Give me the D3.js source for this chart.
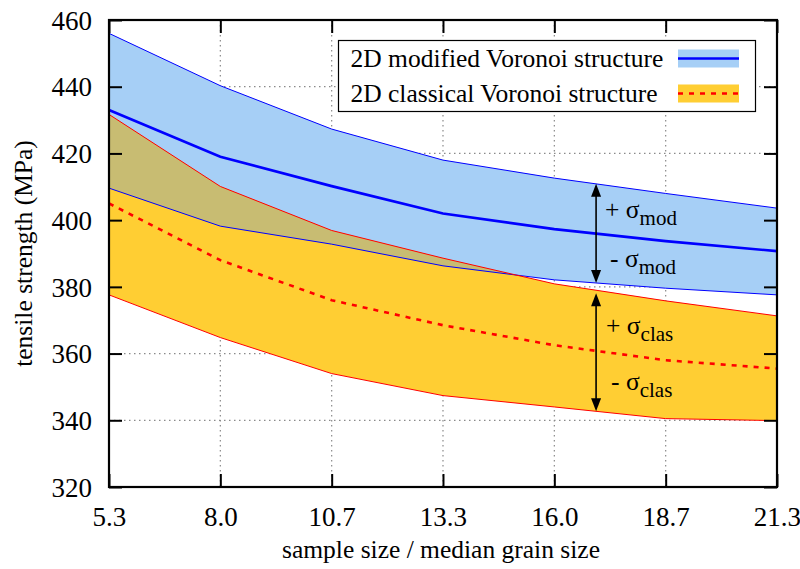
<!DOCTYPE html>
<html>
<head>
<meta charset="utf-8">
<script src="https://cdn.jsdelivr.net/npm/d3@7"></script>
<style>
  html, body { margin: 0; padding: 0; background: #fff; }
  svg { display: block; }
  text { font-family: "Liberation Serif", "DejaVu Serif", serif; fill: #000; }
</style>
</head>
<body>
<svg id="chart" width="800" height="569"></svg>
<script>
// sample size / median grain size (x positions of the simulations)
const sampleSize = [5.333, 8.0, 10.667, 13.333, 16.0, 18.667, 21.333];
const xTickValues = [5.333, 8.0, 10.667, 13.333, 16.0, 18.667, 21.333];
const yTickValues = [320, 340, 360, 380, 400, 420, 440, 460];

// 2D modified Voronoi structure: mean and mean ± sigma (MPa)
const modMean  = [433.0, 419.0, 410.2, 402.0, 397.3, 393.7, 390.7];
const modUpper = [456.0, 440.3, 427.3, 418.0, 412.6, 408.0, 403.6];
const modLower = [409.6, 398.2, 392.8, 386.3, 382.1, 379.6, 377.6];

// 2D classical Voronoi structure: mean and mean ± sigma (MPa)
const clasMean  = [405.0, 388.0, 376.0, 368.5, 362.5, 358.0, 355.5];
const clasUpper = [431.7, 410.1, 396.9, 388.6, 380.9, 375.8, 371.3];
const clasLower = [377.6, 364.8, 354.0, 347.4, 344.0, 340.5, 339.9];

// where the ± sigma arrows are drawn
const annotX = 17.0;

const legendLabels = ["2D modified Voronoi structure", "2D classical Voronoi structure"];
const xTitle = "sample size / median grain size";
const yTitle = "tensile strength (MPa)";

const colors = {
  modFill: "#a6cff6",
  clasFill: "#ffce33",
  overlap: "#c8bc72",
  modLine: "#0000ff",
  clasLine: "#ff0000",
  grid: "#8a8a8a"
};

const tickFont = 27;
const textFont = 25.5;

const svg = d3.select("#chart");
const plot = { left: 109, right: 777, top: 20, bottom: 487 };

const x = d3.scaleLinear().domain([16 / 3, 64 / 3]).range([plot.left, plot.right]);
const y = d3.scaleLinear().domain([320, 460]).range([plot.bottom, plot.top]);

const rows = sampleSize.map((s, i) => ({
  s,
  modMean: modMean[i], modUpper: modUpper[i], modLower: modLower[i],
  clasMean: clasMean[i], clasUpper: clasUpper[i], clasLower: clasLower[i]
}));

// grid
const grid = svg.append("g").attr("class", "grid")
  .attr("stroke", colors.grid).attr("stroke-width", 1.2)
  .attr("stroke-dasharray", "1.5,3.5");
grid.selectAll("line.gx").data(xTickValues.slice(1, -1)).join("line")
  .attr("x1", d => x(d)).attr("x2", d => x(d))
  .attr("y1", plot.top).attr("y2", plot.bottom);
grid.selectAll("line.gy").data(yTickValues.slice(1, -1)).join("line")
  .attr("x1", plot.left).attr("x2", plot.right)
  .attr("y1", d => y(d)).attr("y2", d => y(d));

// bands
const modArea = d3.area().x(d => x(d.s)).y0(d => y(d.modLower)).y1(d => y(d.modUpper));
const clasArea = d3.area().x(d => x(d.s)).y0(d => y(d.clasLower)).y1(d => y(d.clasUpper));

const defs = svg.append("defs");
defs.append("clipPath").attr("id", "modClip").append("path").attr("d", modArea(rows));

svg.append("path").attr("d", modArea(rows)).attr("fill", colors.modFill);
svg.append("path").attr("d", clasArea(rows)).attr("fill", colors.clasFill);
svg.append("path").attr("d", clasArea(rows)).attr("fill", colors.overlap)
  .attr("clip-path", "url(#modClip)");

// band edges and means
const lineOf = key => d3.line().x(d => x(d.s)).y(d => y(d[key]));
const lines = svg.append("g").attr("fill", "none");
lines.append("path").attr("d", lineOf("modUpper")(rows)).attr("stroke", colors.modLine).attr("stroke-width", 1);
lines.append("path").attr("d", lineOf("modLower")(rows)).attr("stroke", colors.modLine).attr("stroke-width", 1);
lines.append("path").attr("d", lineOf("clasUpper")(rows)).attr("stroke", colors.clasLine).attr("stroke-width", 1);
lines.append("path").attr("d", lineOf("clasLower")(rows)).attr("stroke", colors.clasLine).attr("stroke-width", 1);
lines.append("path").attr("d", lineOf("modMean")(rows)).attr("stroke", colors.modLine).attr("stroke-width", 2.6);
lines.append("path").attr("d", lineOf("clasMean")(rows)).attr("stroke", colors.clasLine)
  .attr("stroke-width", 2.6).attr("stroke-dasharray", "5,6");

// axes (mirrored ticks on all four sides, pointing inward)
const tickLen = 13;
const fmt = d3.format(".1f");
const axisBottom = svg.append("g").attr("transform", `translate(0,${plot.bottom})`)
  .call(d3.axisBottom(x).tickValues(xTickValues).tickFormat(fmt).tickSize(-tickLen).tickPadding(20));
const axisTop = svg.append("g").attr("transform", `translate(0,${plot.top})`)
  .call(d3.axisTop(x).tickValues(xTickValues).tickFormat("").tickSize(-tickLen));
const axisLeft = svg.append("g").attr("transform", `translate(${plot.left},0)`)
  .call(d3.axisLeft(y).tickValues(yTickValues).tickSize(-tickLen).tickPadding(17));
const axisRight = svg.append("g").attr("transform", `translate(${plot.right},0)`)
  .call(d3.axisRight(y).tickValues(yTickValues).tickFormat("").tickSize(-tickLen));

[axisBottom, axisTop, axisLeft, axisRight].forEach(g => {
  g.select(".domain").remove();
  g.selectAll(".tick line").attr("stroke", "#000").attr("stroke-width", 2);
  g.selectAll("text").attr("font-size", tickFont).attr("font-family", "Liberation Serif").attr("fill", "#000");
});
axisLeft.selectAll("text").attr("dy", "0.34em");
axisBottom.selectAll("text").attr("dy", "0.71em");

svg.append("rect")
  .attr("x", plot.left).attr("y", plot.top)
  .attr("width", plot.right - plot.left).attr("height", plot.bottom - plot.top)
  .attr("fill", "none").attr("stroke", "#000").attr("stroke-width", 2.2);

// axis titles
svg.append("text").attr("x", (plot.left + plot.right) / 2 - 2).attr("y", 558)
  .attr("text-anchor", "middle").attr("font-size", textFont).text(xTitle);
svg.append("text").attr("transform", `translate(32,${(plot.top + plot.bottom) / 2}) rotate(-90)`)
  .attr("text-anchor", "middle").attr("font-size", textFont).text(yTitle);

// ± sigma arrows
function interp(values, xv) {
  const i = d3.bisectRight(sampleSize, xv) - 1;
  const t = (xv - sampleSize[i]) / (sampleSize[i + 1] - sampleSize[i]);
  return values[i] + t * (values[i + 1] - values[i]);
}
function doubleArrow(x0, yA, yB) {
  const g = svg.append("g");
  const head = 13, half = 5;
  g.append("line").attr("x1", x0).attr("x2", x0).attr("y1", yA + head - 2).attr("y2", yB - head + 2)
    .attr("stroke", "#000").attr("stroke-width", 1.6);
  g.append("path").attr("d", `M${x0},${yA}L${x0 - half},${yA + head}L${x0 + half},${yA + head}Z`).attr("fill", "#000");
  g.append("path").attr("d", `M${x0},${yB}L${x0 - half},${yB - head}L${x0 + half},${yB - head}Z`).attr("fill", "#000");
}
const ax = x(annotX);
doubleArrow(ax, y(interp(modUpper, annotX)), y(interp(modLower, annotX)));
doubleArrow(ax, y(interp(clasUpper, annotX)) + 3, y(interp(clasLower, annotX)));

function sigmaLabel(xPos, yPos, sign, sub) {
  const t = svg.append("text").attr("x", xPos).attr("y", yPos).attr("font-size", textFont);
  t.append("tspan").text(sign + " σ");
  t.append("tspan").attr("dy", 7).attr("font-size", 21).text(sub);
}
sigmaLabel(ax + 9, 218, "+", "mod");
sigmaLabel(ax + 14, 267, "-", "mod");
sigmaLabel(ax + 10, 334, "+", "clas");
sigmaLabel(ax + 15, 390, "-", "clas");

// legend
const legend = svg.append("g");
legend.append("rect").attr("x", 338.5).attr("y", 40.5).attr("width", 417).attr("height", 71)
  .attr("fill", "#fff").attr("stroke", "#000").attr("stroke-width", 1.2);
const legendItems = [
  { label: legendLabels[0], fill: colors.modFill, stroke: colors.modLine, dash: null },
  { label: legendLabels[1], fill: colors.clasFill, stroke: colors.clasLine, dash: "5,6" }
];
legendItems.forEach((it, i) => {
  const cy = 58.5 + i * 35;
  legend.append("text").attr("x", 350.5).attr("y", cy + 8).attr("font-size", textFont).text(it.label);
  legend.append("rect").attr("x", 678).attr("y", cy - 9).attr("width", 61).attr("height", 18).attr("fill", it.fill);
  legend.append("line").attr("x1", 678).attr("x2", 739).attr("y1", cy).attr("y2", cy)
    .attr("stroke", it.stroke).attr("stroke-width", 2.6).attr("stroke-dasharray", it.dash);
});
</script>
</body>
</html>
